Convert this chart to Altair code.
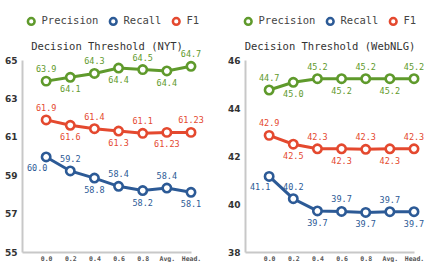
import altair as alt
import pandas as pd

series = ["Precision", "Recall", "F1"]
colors = ["#5f9a2c", "#2c5a96", "#e4492f"]
x_labels = ["0.0", "0.2", "0.4", "0.6", "0.8", "Avg.", "Head."]

nyt_precision = [63.9, 64.1, 64.3, 64.58, 64.5, 64.43, 64.67]
nyt_precision_lbl = ["63.9", "64.1", "64.3", "64.4", "64.5", "64.4", "64.7"]
nyt_recall = [59.95, 59.22, 58.85, 58.42, 58.2, 58.33, 58.11]
nyt_recall_lbl = ["60.0", "59.2", "58.8", "58.4", "58.2", "58.4", "58.1"]
nyt_f1 = [61.88, 61.6, 61.42, 61.3, 61.18, 61.23, 61.23]
nyt_f1_lbl = ["61.9", "61.6", "61.4", "61.3", "61.1", "61.23", "61.23"]

web_precision = [44.75, 45.07, 45.22, 45.22, 45.22, 45.22, 45.22]
web_precision_lbl = ["44.7", "45.0", "45.2", "45.2", "45.2", "45.2", "45.2"]
web_recall = [41.15, 40.22, 39.71, 39.69, 39.65, 39.68, 39.68]
web_recall_lbl = ["41.1", "40.2", "39.7", "39.7", "39.7", "39.7", "39.7"]
web_f1 = [42.86, 42.49, 42.3, 42.3, 42.28, 42.3, 42.3]
web_f1_lbl = ["42.9", "42.5", "42.3", "42.3", "42.3", "42.3", "42.3"]

nyt_ticks = [55, 57, 59, 61, 63, 65]
web_ticks = [38, 40, 42, 44, 46]


def make_df(vals, lbls):
    rows = []
    for s, v, l in zip(series, vals, lbls):
        for i in range(len(v)):
            # Precision and F1 labels start above, Recall labels start below
            start_above = s != "Recall"
            above = (i % 2 == 0) == start_above
            rows.append({"series": s, "idx": i, "value": v[i], "label": l[i],
                         "pos": "above" if above else "below",
                         "first": (s == "Recall" and i == 0)})
    return pd.DataFrame(rows)


label_expr = "[" + ",".join("'%s'" % t for t in x_labels) + "][datum.value]"
mono = "DejaVu Sans Mono"


def panel(df, ylo, yhi, yticks, title, legend_x):
    cscale = alt.Scale(domain=series, range=colors)
    color = alt.Color("series:N", scale=cscale, sort=series,
                      legend=alt.Legend(title=None, orient="none", direction="horizontal",
                                        legendX=legend_x, legendY=-44,
                                        symbolType="circle",
                                        symbolStrokeWidth=2.5, symbolSize=45,
                                        labelFont=mono, labelFontSize=10.5, labelColor="#444",
                                        columnPadding=5, labelOffset=5))
    stroke = alt.Stroke("series:N", scale=cscale, legend=None)
    fill = alt.Fill("series:N", scale=cscale, legend=None)
    yenc = alt.Y("value:Q", scale=alt.Scale(domain=[ylo, yhi], nice=False, zero=False),
                 axis=alt.Axis(values=yticks, title=None, grid=False, ticks=False,
                               labelFont="DejaVu Sans", labelFontSize=9, labelFontWeight="bold",
                               labelColor="#333", labelPadding=5, domainColor="#c8c8c8",
                               domainWidth=2))
    xscale = alt.Scale(domain=[-1, 6], nice=False, zero=False)
    xbottom = alt.X("idx:Q", scale=xscale,
                    axis=alt.Axis(values=list(range(7)), labelExpr=label_expr, title=None,
                                  grid=False, ticks=False, labelFont=mono, labelFontSize=6.5,
                                  labelFontWeight="bold", labelColor="#555", labelPadding=3,
                                  labelOverlap=False, labelFlush=False,
                                  domainColor="#c8c8c8", domainWidth=2))
    xnone = alt.X("idx:Q", scale=xscale, axis=None)
    xtop = alt.X("idx:Q", scale=xscale,
                 axis=alt.Axis(orient="top", title=title, labels=False, ticks=False,
                               domain=False, grid=False, titleFont=mono, titleFontSize=10.5,
                               titleFontWeight="normal", titleColor="#333", titlePadding=9))
    base = alt.Chart(df)
    line = base.mark_line(strokeWidth=3).encode(x=xbottom, y=yenc, color=color)
    pts = base.mark_point(fill="white", filled=False, size=70, strokeWidth=2.6, opacity=1).encode(
        x=xnone, y=yenc, stroke=stroke, fill=alt.value("white"))
    above = base.transform_filter("datum.pos == 'above'").mark_text(
        font=mono, fontSize=8.5, dy=-12).encode(x=xtop, y=yenc, text="label:N", fill=fill)
    below = base.transform_filter("datum.pos == 'below' && !datum.first").mark_text(
        font=mono, fontSize=8.5, dy=12).encode(x=xnone, y=yenc, text="label:N", fill=fill)
    first = base.transform_filter("datum.first").mark_text(
        font=mono, fontSize=8.5, dy=11, dx=-9).encode(x=xnone, y=yenc, text="label:N", fill=fill)
    return alt.layer(line, pts, above, below, first).resolve_axis(x="independent").properties(
        width=169, height=192)


left = panel(make_df([nyt_precision, nyt_recall, nyt_f1],
                     [nyt_precision_lbl, nyt_recall_lbl, nyt_f1_lbl]),
             55, 65, nyt_ticks, "Decision Threshold (NYT)", 4)
right = panel(make_df([web_precision, web_recall, web_f1],
                      [web_precision_lbl, web_recall_lbl, web_f1_lbl]),
              38, 46, web_ticks, "Decision Threshold (WebNLG)", -2)

chart = alt.hconcat(left, right, spacing=54, bounds="flush").resolve_legend(
    color="independent").resolve_scale(color="independent").configure_view(
    stroke=None).properties(padding={"left": 4, "top": 16, "right": 2, "bottom": 0})

chart.save("out.html", embed_options={"renderer": "svg", "actions": False})
